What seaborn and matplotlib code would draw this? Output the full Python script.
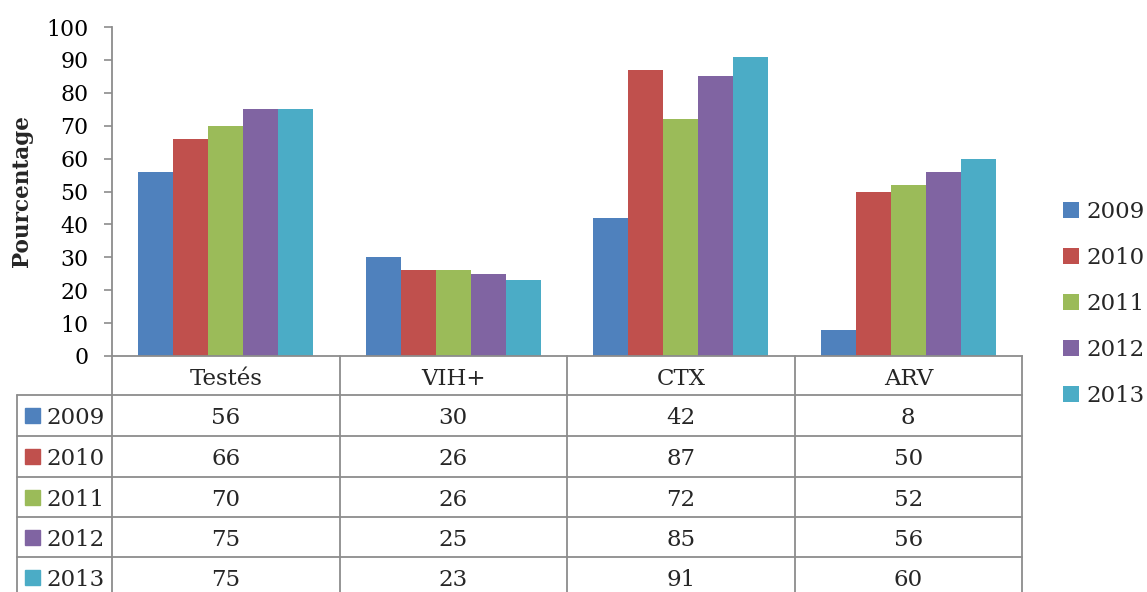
import numpy as np
import pandas as pd
import seaborn as sns
import matplotlib.pyplot as plt
from matplotlib.lines import Line2D
from matplotlib.patches import Rectangle
from matplotlib.transforms import blended_transform_factory

sns.set_theme(style="white")
plt.rcParams['font.family'] = ['DejaVu Serif']

# data
categories = ["Testés", "VIH+", "CTX", "ARV"]
years = ["2009", "2010", "2011", "2012", "2013"]
v2009 = [56, 30, 42, 8]
v2010 = [66, 26, 87, 50]
v2011 = [70, 26, 72, 52]
v2012 = [75, 25, 85, 56]
v2013 = [75, 23, 91, 60]
series = [v2009, v2010, v2011, v2012, v2013]
colors = ["#4F81BD", "#C0504D", "#9BBB59", "#8064A2", "#4BACC6"]

rows = []
for y, vals in zip(years, series):
    for c, v in zip(categories, vals):
        rows.append({"cat": c, "val": v, "year": y})
df = pd.DataFrame(rows)

W, H = 1147, 592
FS_TICK = 15.8
FS = 16.5
GRID = "#8c8c8c"

fig = plt.figure(figsize=(W / 100, H / 100), dpi=100)
ax = fig.add_axes([112 / W, 1 - 356 / H, (1022 - 112) / W, (356 - 27) / H])

sns.barplot(data=df, x="cat", y="val", hue="year", order=categories,
            hue_order=years, palette=colors, saturation=1, width=0.77,
            gap=0, linewidth=0, ax=ax)

ax.set_xlim(-0.5, 3.5)
ax.set_ylim(0, 100)
ax.set_yticks(range(0, 101, 10))
ax.tick_params(axis="y", labelsize=FS_TICK, colors=GRID, labelcolor="black",
               length=6, width=1.2, direction="out", pad=11, left=True)
ax.tick_params(axis="x", bottom=False, labelbottom=False)
ax.set_xlabel("")
ax.set_ylabel("Pourcentage", fontsize=15.5, fontweight="bold")
ax.yaxis.set_label_coords(-0.087, 0.5)
for s in ["top", "right"]:
    ax.spines[s].set_visible(False)
for s in ["left", "bottom"]:
    ax.spines[s].set_color(GRID)
    ax.spines[s].set_linewidth(1.3)

# legend
handles, labels = ax.get_legend_handles_labels()
ax.legend(handles, labels, loc="center left",
          bbox_to_anchor=(1063 / W, 1 - 304 / H), bbox_transform=fig.transFigure,
          frameon=False, fontsize=FS, handlelength=0.68, handleheight=0.68,
          handletextpad=0.33, labelspacing=1.05, borderpad=0, borderaxespad=0)

# data table under the plot
bt = blended_transform_factory(ax.transData, fig.transFigure)
ft = fig.transFigure
header_c = 379
row_lines = [395, 436, 477, 517, 557, 597]
fy = lambda py: 1 - py / H

# header row: vertical lines and category names
for i in range(len(categories) + 1):
    x = i - 0.5
    fig.add_artist(Line2D([x, x], [fy(356), fy(597)], transform=bt,
                          color=GRID, lw=1.3, clip_on=False))
for i, c in enumerate(categories):
    fig.text(i, fy(header_c), c, transform=bt, ha="center", va="center",
             fontsize=FS)

# body rows
x_right = ax.transData.transform((3.5, 0))[0] / W
for py in row_lines:
    fig.add_artist(Line2D([17 / W, x_right], [fy(py), fy(py)], transform=ft,
                          color=GRID, lw=1.3, clip_on=False))
fig.add_artist(Line2D([17 / W, 17 / W], [fy(395), fy(597)], transform=ft,
                      color=GRID, lw=1.3, clip_on=False))

for r, (y, vals, col) in enumerate(zip(years, series, colors)):
    yc = fy((row_lines[r] + row_lines[r + 1]) / 2)
    fig.add_artist(Rectangle((25 / W, yc - 7.5 / H), 15 / W, 15 / H,
                             transform=ft, color=col, clip_on=False))
    fig.text(46 / W, yc, y, transform=ft, ha="left", va="center_baseline",
             fontsize=FS)
    for i, v in enumerate(vals):
        fig.text(i, yc, str(v), transform=bt, ha="center",
                 va="center_baseline", fontsize=FS)

fig.savefig("out.png", dpi=100)
